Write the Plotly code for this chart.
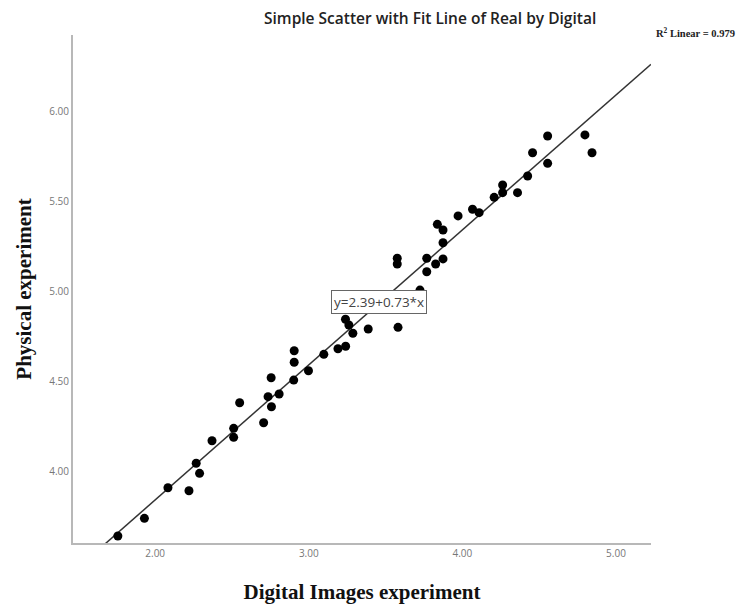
import numpy as np
import plotly.graph_objects as go

# Data
digital = [1.757, 1.93, 2.083, 2.22, 2.267, 2.289, 2.37, 2.511, 2.511, 2.55,
           2.706, 2.735, 2.757, 2.755, 2.807, 2.902, 2.905, 2.905, 2.998, 3.098,
           3.19, 3.24, 3.287, 3.387, 3.239, 3.261, 3.581, 3.724, 3.576, 3.576,
           3.768, 3.768, 3.826, 3.874, 3.874, 3.874, 3.837, 3.972, 4.066, 4.109,
           4.207, 4.262, 4.262, 4.359, 4.425, 4.457, 4.555, 4.555, 4.798, 4.844]
physical = [3.643, 3.741, 3.911, 3.894, 4.047, 3.991, 4.172, 4.241, 4.191, 4.383,
            4.272, 4.417, 4.361, 4.522, 4.432, 4.509, 4.608, 4.672, 4.561, 4.652,
            4.683, 4.697, 4.769, 4.793, 4.847, 4.815, 4.802, 5.009, 5.186, 5.154,
            5.186, 5.111, 5.154, 5.182, 5.272, 5.343, 5.374, 5.421, 5.458, 5.439,
            5.524, 5.593, 5.55, 5.55, 5.643, 5.772, 5.713, 5.865, 5.871, 5.772]

x_ticks = [2.0, 3.0, 4.0, 5.0]
y_ticks = [4.0, 4.5, 5.0, 5.5, 6.0]
x_range = [1.465, 5.228]
y_range = [3.604, 6.426]

title_text = "Simple Scatter with Fit Line of Real by Digital"
r2_text = "R<sup>2</sup> Linear = 0.979"
eq_text = "y=2.39+0.73*x"

slope, intercept = np.polyfit(digital, physical, 1)
line_x = np.array(x_range)
line_y = intercept + slope * line_x

fig = go.Figure()
fig.add_trace(go.Scatter(x=line_x, y=line_y, mode="lines",
                         line=dict(color="#333333", width=1.5), hoverinfo="skip",
                         showlegend=False))
fig.add_trace(go.Scatter(x=digital, y=physical, mode="markers",
                         marker=dict(color="black", size=9), showlegend=False))

axis_common = dict(showgrid=False, zeroline=False, showline=True,
                   linecolor="#b8b8b8", linewidth=2, ticks="",
                   tickformat=".2f", automargin=False,
                   tickfont=dict(family="Open Sans", size=10, color="#777777"))

fig.update_xaxes(range=x_range, tickvals=x_ticks, **axis_common,
                 title=dict(text="<b>Digital Images experiment</b>",
                            font=dict(family="Liberation Serif", size=21, color="#111111"),
                            standoff=25))
fig.update_yaxes(range=y_range, tickvals=y_ticks, **axis_common,
                 title=dict(text="<b>Physical experiment</b>",
                            font=dict(family="Liberation Serif", size=21, color="#111111"),
                            standoff=12))

fig.add_annotation(x=0.617, y=1.0, xref="paper", yref="paper", yanchor="middle",
                   yshift=17, xanchor="center", showarrow=False,
                   text=title_text,
                   font=dict(family="Open Sans", size=15.5, color="#222222", weight=600))
fig.add_annotation(x=1.0, y=1.0, xref="paper", yref="paper", xanchor="left",
                   yanchor="middle", xshift=3, yshift=3, showarrow=False,
                   text="<b>" + r2_text + "</b>",
                   font=dict(family="Liberation Serif", size=10.5, color="#222222"))
fig.add_annotation(x=3.46, y=4.943, xref="x", yref="y", showarrow=False,
                   text=eq_text, bgcolor="white", bordercolor="#666666",
                   borderwidth=1, borderpad=2,
                   font=dict(family="Open Sans", size=13.5, color="#444444"))

# The page adds an 8px body margin at left/top, so the figure is 8px smaller
fig.update_layout(width=745, height=602, plot_bgcolor="white", paper_bgcolor="white",
                  margin=dict(l=65, r=102, t=27, b=67))

fig.write_html("out.html")
